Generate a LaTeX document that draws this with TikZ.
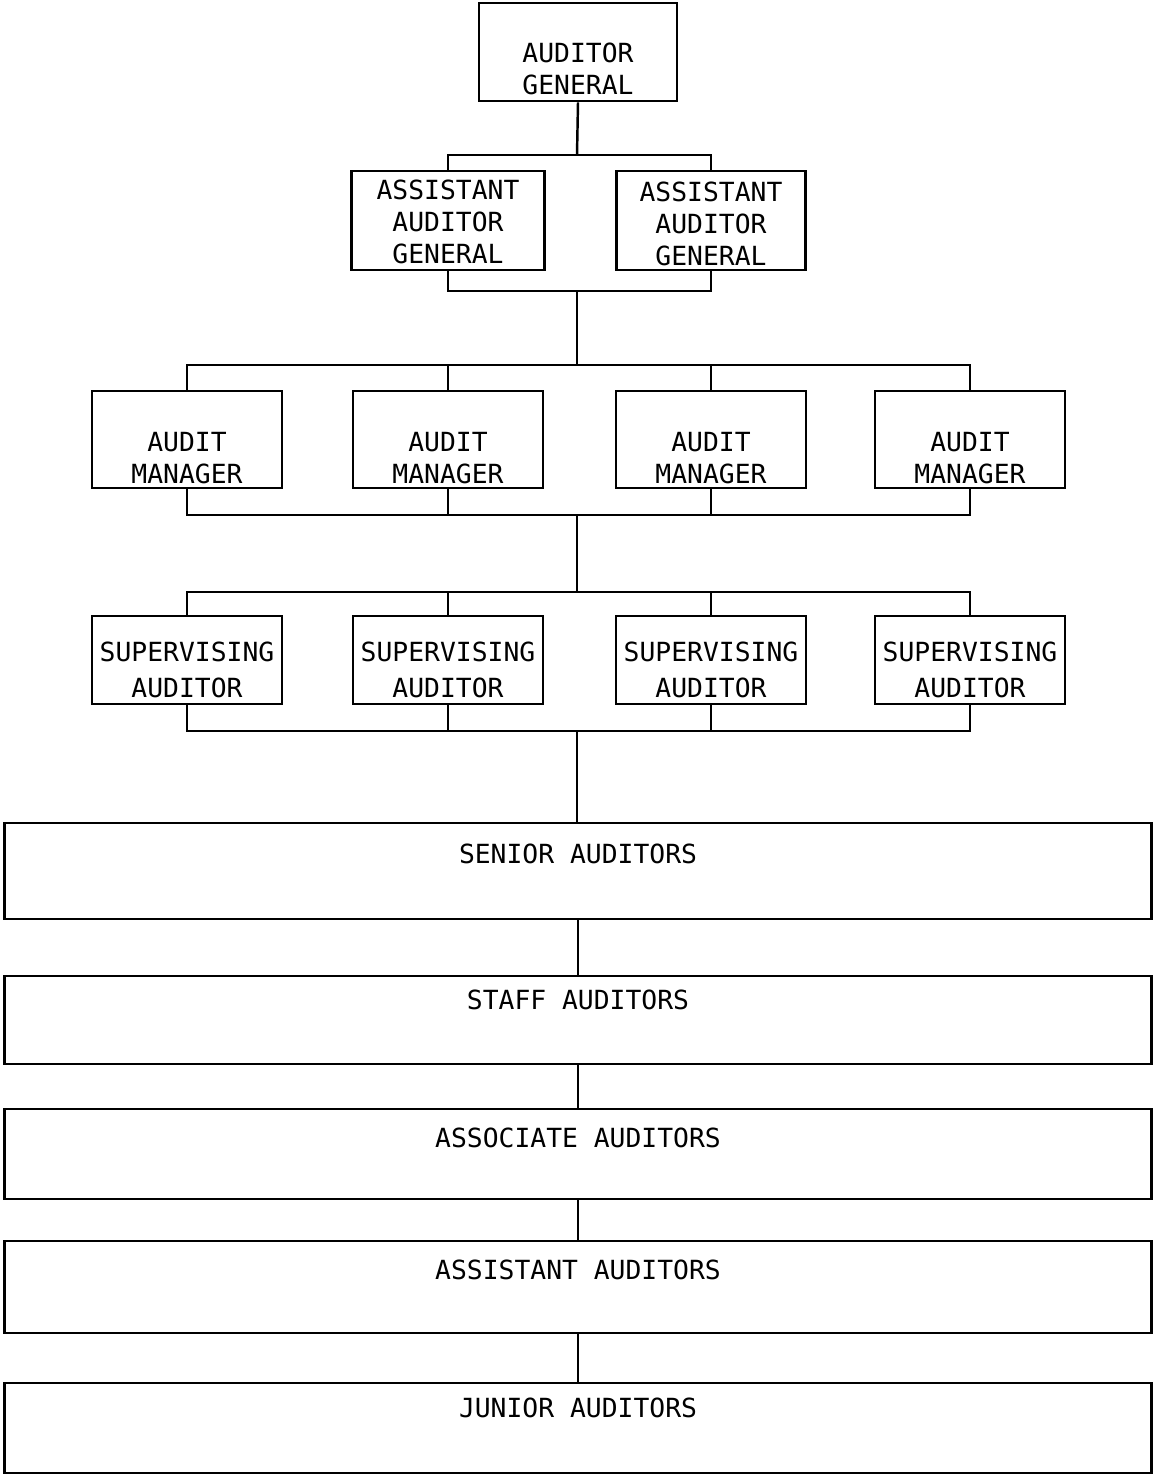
\documentclass[tikz,border=0pt]{standalone}
\usepackage{fontspec}
\setmainfont{DejaVu Sans Mono}
\usepackage{tikz}
\usetikzlibrary{positioning}

\tikzset{
  box/.style={draw, line width=1.4pt, inner xsep=0pt, inner ysep=0pt, anchor=north,
    align=center, font=\fontsize{15pt}{18.2pt}\selectfont},
  wide/.style={box, minimum width=22.94cm},
  link/.style={line width=1.4pt}
}

\begin{document}
\begin{tikzpicture}[x=0.02cm,y=-0.02cm]
  \useasboundingbox (0,0) rectangle (1154,1474);
  % top of the office
  \node[box, minimum width=3.96cm, text height=1.82cm, text depth=0.14cm] (ag) at (578,2) {AUDITOR\\GENERAL};
  \node[box, minimum width=3.86cm, text height=1.84cm, text depth=0.14cm] (aag1) at (448,170) {ASSISTANT\\AUDITOR\\GENERAL};
  \node[box, minimum width=3.78cm, text height=1.88cm, text depth=0.10cm] (aag2) at (711,170) {ASSISTANT\\AUDITOR\\GENERAL};
  \coordinate (bus0) at (577,155);
  \coordinate (join0) at (577,291);
  \draw[link] (ag.south) -- (bus0);
  \draw[link] (aag1.north) |- (bus0) -| (aag2.north);
  \draw[link] (aag1.south) |- (join0) -| (aag2.south);

  % managers and supervisors
  \foreach \i/\x in {1/187,2/448,3/711,4/970}{
    \node[box, minimum width=3.8cm, text height=1.84cm, text depth=0.10cm] (am\i) at (\x,390) {AUDIT\\MANAGER};
    \node[box, minimum width=3.8cm, text height=1.62cm, text depth=0.14cm] (sa\i) at (\x,615) {SUPERVISING\\[0.08cm]AUDITOR};
  }
  \coordinate (bus1) at (577,365);
  \coordinate (bus2) at (577,515);
  \coordinate (bus3) at (577,592);
  \coordinate (bus4) at (577,731);
  \draw[link] (join0) -- (bus1);
  \draw[link] (am1.north) |- (bus1) -| (am4.north);
  \draw[link] (am1.south) |- (bus2) -| (am4.south);
  \draw[link] (bus2) -- (bus3);
  \draw[link] (sa1.north) |- (bus3) -| (sa4.north);
  \draw[link] (sa1.south) |- (bus4) -| (sa4.south);
  \foreach \i in {2,3}{
    \draw[link] (am\i.north) -- (am\i.north |- bus1);
    \draw[link] (am\i.south) -- (am\i.south |- bus2);
    \draw[link] (sa\i.north) -- (sa\i.north |- bus3);
    \draw[link] (sa\i.south) -- (sa\i.south |- bus4);
  }

  % auditor grades
  \node[wide, text height=0.80cm, text depth=1.12cm] (senior) at (578,822) {SENIOR AUDITORS};
  \node[wide, text height=0.66cm, text depth=1.10cm] (staff) at (578,975) {STAFF AUDITORS};
  \node[wide, text height=0.76cm, text depth=1.04cm] (associate) at (578,1108) {ASSOCIATE AUDITORS};
  \node[wide, text height=0.76cm, text depth=1.08cm] (assistant) at (578,1240) {ASSISTANT AUDITORS};
  \node[wide, text height=0.68cm, text depth=1.12cm] (junior) at (578,1382) {JUNIOR AUDITORS};
  \draw[link] (bus4) -- (senior.north -| bus4);
  \draw[link] (senior) -- (staff);
  \draw[link] (staff) -- (associate);
  \draw[link] (associate) -- (assistant);
  \draw[link] (assistant) -- (junior);
\end{tikzpicture}
\end{document}
